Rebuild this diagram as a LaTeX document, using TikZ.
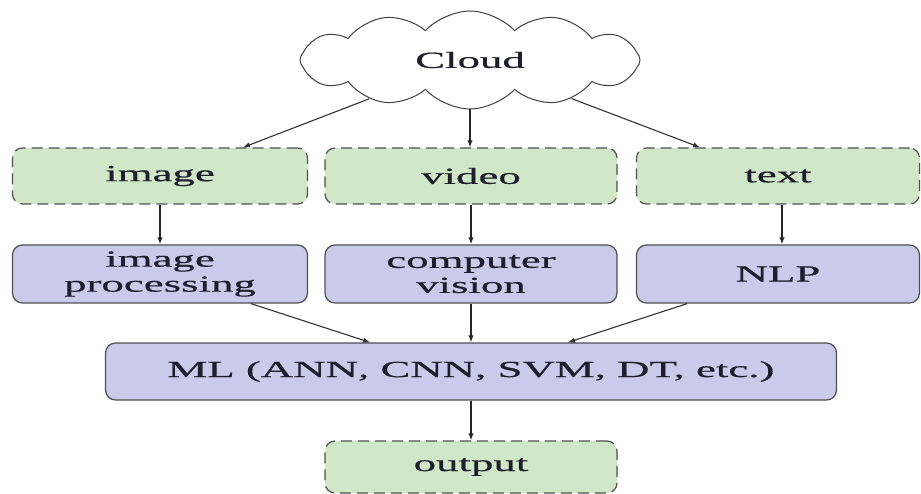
\documentclass[tikz,border=0pt]{standalone}
\usepackage{fontspec}
\setmainfont{Liberation Serif}[FakeStretch=1.95,FakeBold=0.6]
\usetikzlibrary{shapes.symbols,arrows.meta,calc}

\definecolor{datagreen}{RGB}{208,232,200}
\definecolor{procpurple}{RGB}{202,202,234}
\definecolor{edgegray}{RGB}{80,80,80}
\definecolor{inkdark}{RGB}{30,30,45}

\tikzset{
  label font/.style={font=\fontsize{23}{25}\selectfont, text=inkdark, align=center},
  databox/.style={label font, draw=edgegray, line width=1.2pt, fill=datagreen,
    dash pattern=on 11pt off 6pt, rounded corners=10pt, inner sep=0pt},
  procbox/.style={label font, draw=edgegray, line width=1.2pt, fill=procpurple,
    rounded corners=10pt, inner sep=0pt},
  sourcecloud/.style={label font, draw=black!75, line width=1pt, fill=white,
    cloud, cloud puffs=12, cloud puff arc=95, aspect=3.6, inner sep=0pt},
  flow/.style={draw=black!85, line width=1.6pt, -{Latex[length=7pt,width=5.5pt]}},
  slant/.style={draw=black!80, line width=1.1pt, -{Latex[length=7pt,width=5.5pt]}}
}

\begin{document}
\begin{tikzpicture}[x=1pt, y=-1pt]
  \useasboundingbox (0,0) rectangle (921,494);

  % data source
  \node[sourcecloud, minimum width=340pt, minimum height=98pt] (cloud) at (470,60) {Cloud};

  % raw data types
  \node[databox, minimum width=295pt, minimum height=56pt] (image) at (160,176) {image};
  \node[databox, minimum width=292pt, minimum height=56pt] (video) at (471,176) {video};
  \node[databox, minimum width=283pt, minimum height=56pt] (text)  at (778,176) {text};

  % processing stages
  \node[procbox, minimum width=295pt, minimum height=58pt] (improc) at (160,274) {image\\processing};
  \node[procbox, minimum width=292pt, minimum height=58pt] (cv)     at (471,274) {computer\\vision};
  \node[procbox, minimum width=283pt, minimum height=58pt] (nlp)    at (778,274) {NLP};

  % learning stage
  \node[procbox, minimum width=731pt, minimum height=57pt] (ml) at (471,371.5) {ML (ANN, CNN, SVM, DT, etc.)};

  % result
  \node[databox, minimum width=292pt, minimum height=52pt] (out) at (471,467) {output};

  % connectors
  \draw[slant] (cloud) -- ([xshift=83pt]image.north);
  \draw[flow]  (cloud.south) -- (cloud.south |- video.north);
  \draw[slant] (cloud) -- ([xshift=-78pt]text.north);

  \draw[flow] (image) -- (improc);
  \draw[flow] (video) -- (cv);
  \draw[flow] ([xshift=4pt]text.south) -- ([xshift=4pt]nlp.north);

  \draw[slant] (improc) -- ([xshift=-101pt]ml.north);
  \draw[flow]  (cv) -- (ml);
  \draw[slant] (nlp) -- ([xshift=97pt]ml.north);

  \draw[flow] (ml) -- (out);
\end{tikzpicture}
\end{document}
